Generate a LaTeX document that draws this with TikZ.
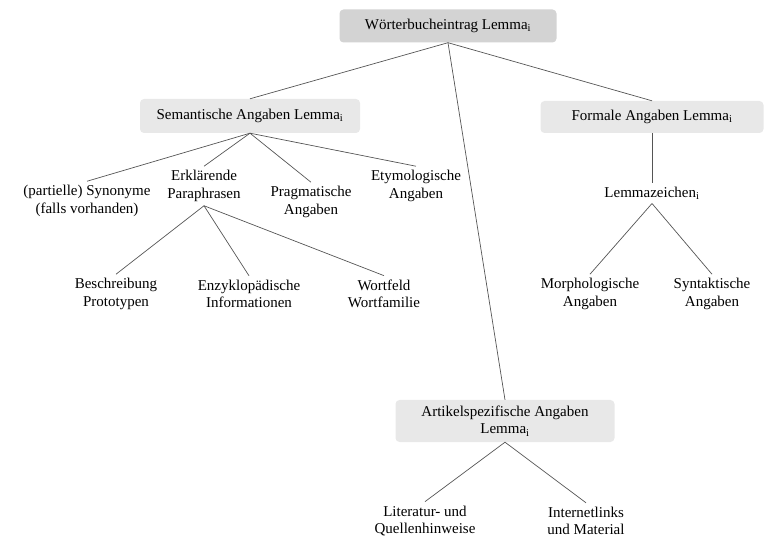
\documentclass[tikz,border=0pt]{standalone}
\usepackage{fontspec}
\setmainfont{Liberation Serif}
\definecolor{rootgray}{HTML}{D3D3D3}
\definecolor{boxgray}{HTML}{E8E8E8}
\definecolor{linegray}{HTML}{555555}
\begin{document}
\begin{tikzpicture}[x=1pt, y=-1pt, font=\fontsize{15}{17.5}\selectfont,
  box/.style={fill=boxgray, rounded corners=4pt, inner sep=3pt, align=center},
  leaf/.style={align=center, inner sep=4pt},
  edge/.style={draw=linegray, line width=0.7pt}]
\useasboundingbox (0,0) rectangle (777,545);
% boxes
\node [box, fill=rootgray, minimum width=217pt, minimum height=33pt] (root) at (448, 26) {Wörterbucheintrag Lemma\textsubscript{i}};
\node [box, minimum width=220pt, minimum height=34pt] (sem) at (250, 116) {Semantische Angaben Lemma\textsubscript{i}};
\node [box, minimum width=223pt, minimum height=32pt] (form) at (652, 117) {Formale Angaben Lemma\textsubscript{i}};
\node [box, minimum width=219pt, minimum height=42pt] (art) at (505, 421) {Artikelspezifische Angaben\\Lemma\textsubscript{i}};
% leaves
\node [leaf] (syn) at (87, 201) {(partielle) Synonyme\\(falls vorhanden)};
\node [leaf] (erkl) at (204, 186) {Erklärende\\Paraphrasen};
\node [leaf] (prag) at (311, 202) {Pragmatische\\Angaben};
\node [leaf] (etym) at (416, 186) {Etymologische\\Angaben};
\node [leaf] (beschr) at (116, 294) {Beschreibung\\Prototypen};
\node [leaf] (enzy) at (249, 294) {Enzyklopädische\\Informationen};
\node [leaf] (wortf) at (384, 294) {Wortfeld\\Wortfamilie};
\node [leaf] (lemz) at (652, 193) {Lemmazeichen\textsubscript{i}};
\node [leaf] (morph) at (590, 294) {Morphologische\\Angaben};
\node [leaf] (synt) at (712, 294) {Syntaktische\\Angaben};
\node [leaf] (lit) at (425, 521) {Literatur- und\\Quellenhinweise};
\node [leaf] (inet) at (586, 521) {Internetlinks\\und Material};
% edges
\draw[edge] (root.south) -- (sem.north);
\draw[edge] (root.south) -- (form.north);
\draw[edge] (root.south) -- (art.north);
\draw[edge] (sem.south) -- (syn.north);
\draw[edge] (sem.south) -- (erkl.north);
\draw[edge] (sem.south) -- (prag.north);
\draw[edge] (sem.south) -- (etym.north);
\draw[edge] (erkl.south) -- (beschr.north);
\draw[edge] (erkl.south) -- (enzy.north);
\draw[edge] (erkl.south) -- (wortf.north);
\draw[edge] (form.south) -- (lemz.north);
\draw[edge] (lemz.south) -- (morph.north);
\draw[edge] (lemz.south) -- (synt.north);
\draw[edge] (art.south) -- (lit.north);
\draw[edge] (art.south) -- (inet.north);
\end{tikzpicture}
\end{document}
